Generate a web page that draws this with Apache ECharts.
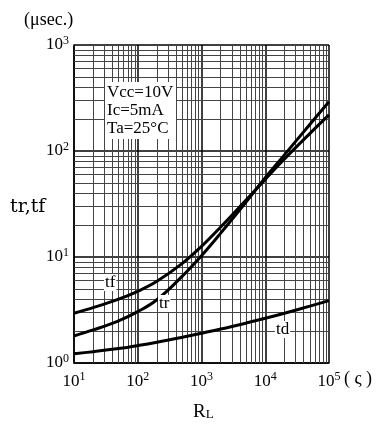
<!DOCTYPE html>
<html><head><meta charset="utf-8">
<script src="https://cdn.jsdelivr.net/npm/echarts@6/dist/echarts.min.js"></script>
<style>html,body{margin:0;padding:0;background:#fff}#c{width:382px;height:425px}</style>
</head><body><div id="c"></div>
<script>
// Resistance RL (ohm)
var rl = [10, 20, 50, 100, 200, 500, 1000, 2000, 5000, 10000, 20000, 50000, 100000];
// times (usec)
var tf = [2.95, 3.33, 4.0, 4.75, 5.9, 8.7, 12.6, 19.2, 34.5, 54, 84, 146, 219];
var tr = [1.8, 2.05, 2.5, 3.05, 3.95, 6.6, 10.3, 16.8, 33, 56, 92, 178, 292];
var td = [1.22, 1.28, 1.37, 1.46, 1.57, 1.75, 1.91, 2.09, 2.38, 2.64, 2.95, 3.44, 3.88];
var xDecades = [10, 100, 1000, 10000];
var yDecades = [1, 10, 100];
var xTickExp = {10: '1', 100: '2', 1000: '3', 10000: '4', 100000: '5'};
var yTickExp = {1: '0', 10: '1', 100: '2', 1000: '3'};
var conditions = ['Vcc=10V', 'Ic=5mA', 'Ta=25°C'];

function pairs(xs, ys) { return xs.map(function (x, i) { return [x, ys[i]]; }); }
var minorLines = [];
xDecades.forEach(function (d) { for (var k = 2; k <= 9; k++) minorLines.push({xAxis: d * k}); });
yDecades.forEach(function (d) { for (var k = 2; k <= 9; k++) minorLines.push({yAxis: d * k}); });

var FONT = '"Liberation Serif", "DejaVu Serif", serif';
var rich = {
  b: {fontFamily: FONT, fontSize: 17, color: '#000'},
  s: {fontFamily: FONT, fontSize: 12, color: '#000', padding: [0, 0, 9, 0]}
};
var curve = {type: 'line', smooth: 0.4, symbol: 'none', lineStyle: {color: '#000', width: 3}, z: 5, silent: true};

var chart = echarts.init(document.getElementById('c'));
chart.setOption({
  animation: false,
  grid: {left: 74, right: 53, top: 45, bottom: 62},
  xAxis: {
    type: 'log', logBase: 10, min: 10, max: 100000,
    axisLine: {show: true, lineStyle: {color: '#000', width: 1.5}},
    axisTick: {show: false},
    splitLine: {show: true, lineStyle: {color: '#000', width: 1.5}},
    axisLabel: {margin: 8, formatter: function (v) { return '{b|10}{s|' + xTickExp[Math.round(v)] + '}'; }, rich: rich}
  },
  yAxis: {
    type: 'log', logBase: 10, min: 1, max: 1000,
    axisLine: {show: true, lineStyle: {color: '#000', width: 1.5}},
    axisTick: {show: false},
    splitLine: {show: true, lineStyle: {color: '#000', width: 1.5}},
    axisLabel: {margin: 5, formatter: function (v) { return '{b|10}{s|' + yTickExp[Math.round(v)] + '}'; }, rich: rich}
  },
  series: [
    {type: 'line', data: [], silent: true, z: 1,
     markLine: {silent: true, symbol: 'none', label: {show: false}, animation: false,
       lineStyle: {color: '#444', width: 1, type: 'solid'}, data: minorLines}},
    Object.assign({name: 'tf', data: pairs(rl, tf)}, curve),
    Object.assign({name: 'tr', data: pairs(rl, tr)}, curve),
    Object.assign({name: 'td', data: pairs(rl, td)}, curve)
  ],
  graphic: [
    {type: 'text', left: 24, top: 11, style: {text: '(μsec.)', font: '18px ' + FONT, fill: '#000'}},
    {type: 'text', left: 10, top: 198, style: {text: 'tr,tf', font: '19px "DejaVu Serif", serif', fill: '#000'}},
    {type: 'text', left: 344, top: 370, style: {text: '( ς )', font: '18px ' + FONT, fill: '#000'}},
    {type: 'text', left: 193, top: 403, style: {text: '{r|R}{l|L}', rich: {r: {font: '19px ' + FONT, fill: '#000'}, l: {font: '13px ' + FONT, fill: '#000', padding: [4, 0, 0, 0]}}}},
    {type: 'rect', left: 105, top: 82, shape: {width: 71, height: 57}, style: {fill: '#fff'}, z: 10},
    {type: 'text', left: 107, top: 84, z: 11, style: {text: conditions.join('\n'), font: '17px ' + FONT, lineHeight: 18, fill: '#000'}},
    {type: 'text', left: 104, top: 274, z: 11, style: {text: 'tf', font: '17px ' + FONT, fill: '#000', backgroundColor: '#fff', padding: [0, 1]}},
    {type: 'text', left: 158, top: 295, z: 11, style: {text: 'tr', font: '17px ' + FONT, fill: '#000', backgroundColor: '#fff', padding: [0, 1]}},
    {type: 'text', left: 275, top: 321, z: 11, style: {text: 'td', font: '17px ' + FONT, fill: '#000', backgroundColor: '#fff', padding: [0, 1]}}
  ]
});
</script></body></html>
